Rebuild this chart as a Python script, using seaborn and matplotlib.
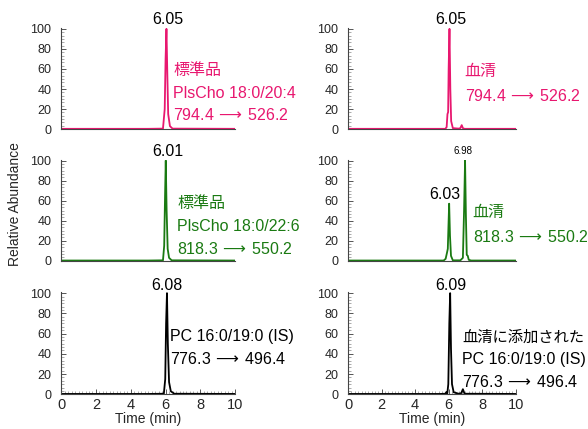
import matplotlib
matplotlib.use("Agg")
import matplotlib.pyplot as plt
import seaborn as sns
import pandas as pd
from matplotlib.ticker import MultipleLocator, AutoMinorLocator

# ---- data ----
t_std204 = [0, 5.0, 5.85, 5.95, 6.0, 6.05, 6.1, 6.15, 6.25, 6.4, 10]
i_std204 = [0.3, 0.3, 0.5, 20, 70, 100, 55, 15, 3, 0.5, 0.3]

t_ser204 = [0, 5.8, 5.88, 5.93, 5.97, 6.0, 6.05, 6.1, 6.15, 6.25, 6.6, 6.7, 6.78, 6.85, 6.95, 10]
i_ser204 = [0.3, 0.3, 2, 15, 17, 60, 100, 40, 8, 1, 0.5, 1, 4, 1, 0.3, 0.3]

t_std226 = [0, 5.0, 5.85, 5.92, 5.97, 6.01, 6.06, 6.12, 6.2, 6.35, 10]
i_std226 = [0.3, 0.3, 0.5, 15, 65, 100, 50, 12, 3, 0.5, 0.3]

t_ser226 = [0, 5.7, 5.82, 5.9, 5.95, 5.99, 6.03, 6.08, 6.14, 6.25, 6.7, 6.85, 6.92, 6.98, 7.03, 7.08, 7.14, 7.2, 7.35, 10]
i_ser226 = [0.3, 0.3, 2, 8, 12, 35, 57, 25, 5, 0.5, 0.5, 3, 50, 100, 45, 6, 5, 1, 0.3, 0.3]

t_is_std = [0, 5.0, 5.9, 5.98, 6.03, 6.08, 6.13, 6.2, 6.3, 6.5, 10]
i_is_std = [0.3, 0.3, 0.5, 15, 70, 100, 50, 12, 3, 0.5, 0.3]

t_is_ser = [0, 5.5, 5.8, 5.87, 5.92, 5.98, 6.04, 6.09, 6.14, 6.2, 6.3, 6.6, 6.75, 6.85, 6.95, 10]
i_is_ser = [0.3, 0.3, 0.5, 2, 0.8, 10, 70, 100, 45, 10, 2, 0.5, 1, 5, 0.5, 0.3]

peak_labels = ["6.05", "6.05", "6.01", "6.98", "6.08", "6.09"]

PINK = "#E8176F"
GREEN = "#1A7A12"
BLACK = "#000000"

sns.set_theme(style="ticks")
FAM = ['Liberation Sans', 'Noto Sans CJK JP', 'DejaVu Sans']
plt.rcParams['font.family'] = FAM
plt.rcParams['mathtext.fontset'] = 'dejavusans'

fig = plt.figure(figsize=(5.88, 4.29), dpi=100)

L = [0.104, 0.296]
R = [0.592, 0.285]
rows = [(0.699, 0.236), (0.392, 0.236), (0.081, 0.238)]

panels = [
    (L, rows[0], t_std204, i_std204, PINK),
    (R, rows[0], t_ser204, i_ser204, PINK),
    (L, rows[1], t_std226, i_std226, GREEN),
    (R, rows[1], t_ser226, i_ser226, GREEN),
    (L, rows[2], t_is_std, i_is_std, BLACK),
    (R, rows[2], t_is_ser, i_is_ser, BLACK),
]

axes = []
for k, (col, row, t, inten, c) in enumerate(panels):
    ax = fig.add_axes([col[0], row[0], col[1], row[1]])
    df = pd.DataFrame({"t": t, "i": inten})
    sns.lineplot(data=df, x="t", y="i", ax=ax, color=c, lw=1.3, estimator=None, sort=False)
    ax.set_xlim(0, 10)
    ax.set_ylim(0, 101)
    ax.set_xlabel("")
    ax.set_ylabel("")
    sns.despine(ax=ax)
    for s in ("left", "bottom"):
        ax.spines[s].set_color("#444444")
        ax.spines[s].set_linewidth(0.8)
    ax.yaxis.set_major_locator(MultipleLocator(20))
    ax.yaxis.set_minor_locator(AutoMinorLocator(6))
    ax.tick_params(axis="y", which="major", direction="in", length=3.5, width=0.7,
                   color="#555555", labelsize=9, pad=7)
    ax.tick_params(axis="y", which="minor", direction="in", length=2, width=0.5, color="#888888")
    if row is rows[2]:
        ax.xaxis.set_major_locator(MultipleLocator(2))
        ax.xaxis.set_minor_locator(MultipleLocator(0.2))
        ax.tick_params(axis="x", which="major", direction="in", length=3.5, width=0.7,
                       color="#555555", labelsize=10.5, pad=3)
        ax.tick_params(axis="x", which="minor", direction="in", length=2, width=0.5, color="#888888")
        ax.set_xlabel("Time (min)", fontsize=10, labelpad=0)
    else:
        ax.tick_params(axis="x", which="both", length=0, labelbottom=False)
    ax.patch.set_alpha(0)
    axes.append(ax)

fs = 11.5
ARROW = r"$\,\longrightarrow\,$"

def txt(ax, x, y, s, color=BLACK, size=fs, **kw):
    ax.text(x, y, s, color=color, fontsize=size, family=FAM, clip_on=False, **kw)

# peak labels
txt(axes[0], 6.1, 102, peak_labels[0], ha="center", va="bottom")
txt(axes[1], 6.1, 102, peak_labels[1], ha="center", va="bottom")
txt(axes[2], 6.1, 102, peak_labels[2], ha="center", va="bottom")
txt(axes[3], 6.85, 105, peak_labels[3], size=7, ha="center", va="bottom")
txt(axes[3], 5.75, 66, "6.03", ha="center", va="center")
txt(axes[4], 6.08, 100, peak_labels[4], ha="center", va="bottom")
txt(axes[5], 6.1, 100, peak_labels[5], ha="center", va="bottom")

# compound labels
txt(axes[0], 6.44, 58, "標準品", PINK, va="center")
txt(axes[0], 6.44, 36, "PlsCho 18:0/20:4", PINK, va="center")
txt(axes[0], 6.44, 14, "794.4" + ARROW + "526.2", PINK, va="center")

txt(axes[1], 6.96, 57, "血清", PINK, va="center")
txt(axes[1], 6.96, 33, "794.4" + ARROW + "526.2", PINK, va="center")

txt(axes[2], 6.67, 57, "標準品", GREEN, va="center")
txt(axes[2], 6.67, 34, "PlsCho 18:0/22:6", GREEN, va="center")
txt(axes[2], 6.67, 12, "818.3" + ARROW + "550.2", GREEN, va="center")

txt(axes[3], 7.44, 48, "血清", GREEN, va="center")
txt(axes[3], 7.44, 24, "818.3" + ARROW + "550.2", GREEN, va="center")

txt(axes[4], 6.26, 57, "PC 16:0/19:0 (IS)", va="center")
txt(axes[4], 6.26, 35, "776.3" + ARROW + "496.4", va="center")

txt(axes[5], 6.8, 56, "血清に添加された", size=11, va="center")
txt(axes[5], 6.8, 34, "PC 16:0/19:0 (IS)", va="center")
txt(axes[5], 6.8, 12, "776.3" + ARROW + "496.4", va="center")

fig.text(0.026, 0.525, "Relative Abundance", rotation=90, ha="center", va="center",
         fontsize=10, family=FAM)

fig.savefig("out.png", dpi=100)
